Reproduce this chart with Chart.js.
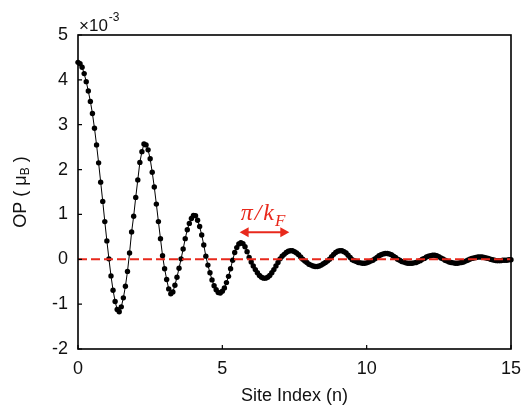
<!DOCTYPE html>
<html>
<head>
<meta charset="utf-8">
<script src="https://cdn.jsdelivr.net/npm/chart.js@4.4.0/dist/chart.umd.min.js"></script>
<style>
  html, body { margin: 0; padding: 0; background: #fff; }
</style>
</head>
<body>
<canvas id="myChart" width="524" height="409"></canvas>
<script>
'use strict';

// Global Variables
// order parameter, in units of 1e-3 (the axis shows x10^-3), one point every 1/14 site
var opValues = [
  4.39, 4.36, 4.28, 4.14, 3.96, 3.75, 3.52, 3.25, 2.92, 2.55,
  2.15, 1.72, 1.29, 0.84, 0.41, 0.01, -0.37, -0.69, -0.94, -1.12,
  -1.17, -1.06, -0.86, -0.60, -0.27, 0.14, 0.61, 0.96, 1.38, 1.77,
  2.16, 2.40, 2.57, 2.55, 2.44, 2.24, 1.94, 1.61, 1.23, 0.84,
  0.46, 0.08, -0.21, -0.45, -0.66, -0.77, -0.73, -0.58, -0.40, -0.20,
  0.01, 0.23, 0.46, 0.66, 0.80, 0.91, 0.98, 0.97, 0.87,
  0.73, 0.54, 0.32, 0.07, -0.13, -0.30, -0.46, -0.59, -0.68, -0.74,
  -0.75, -0.71, -0.64, -0.52, -0.38, -0.21, -0.02,
  0.15, 0.26, 0.34, 0.37, 0.35, 0.28, 0.17, 0.04,
  -0.06, -0.15, -0.23, -0.30, -0.36, -0.40, -0.42, -0.42, -0.40, -0.36, -0.30, -0.23, -0.15, -0.07,
  0.01, 0.07, 0.11, 0.15, 0.18, 0.19, 0.19, 0.17, 0.14, 0.10, 0.05, 0.00,
  -0.04, -0.07, -0.11, -0.13, -0.15, -0.16, -0.16, -0.15, -0.13, -0.10, -0.07, -0.04,
  0.00, 0.06, 0.11, 0.15, 0.18, 0.19, 0.19, 0.17, 0.14, 0.09, 0.04,
  -0.01, -0.03, -0.05, -0.07, -0.08, -0.09, -0.09, -0.08, -0.06, -0.04, -0.02,
  0.01, 0.04, 0.08, 0.10, 0.12, 0.13, 0.13, 0.12, 0.10, 0.07, 0.04, 0.00,
  -0.02, -0.05, -0.06, -0.08, -0.09, -0.09, -0.09, -0.08, -0.07, -0.05, -0.03, 0.00,
  0.02, 0.05, 0.07, 0.08, 0.09, 0.09, 0.08, 0.06, 0.03, 0.01,
  -0.02, -0.04, -0.06, -0.07, -0.08, -0.09, -0.09, -0.08, -0.07, -0.06, -0.04, -0.02,
  0.00, 0.02, 0.03, 0.04, 0.05, 0.05, 0.05, 0.04, 0.03, 0.02, 0.00,
  -0.01, -0.02, -0.03, -0.03, -0.03, -0.02, -0.02, -0.02, -0.01, -0.01
];
var siteStep = 1 / 14;
var zeroLineX = [0, 15];
var zeroLineY = [0, 0];
var xTicks = [0, 5, 10, 15];
var yTicks = [-2, -1, 0, 1, 2, 3, 4, 5];
// the pi/kF period marked above the 4th bump
var periodX = [5.6, 7.32];
var periodY = 0.6;

var fontName = '"Liberation Sans", Arial, sans-serif';
var red = '#e8291c';

function makePoints(xs, ys) {
  var pts = [];
  for (var i = 0; i < ys.length; i++) {
    pts.push({ x: xs[i], y: ys[i] });
  }
  return pts;
}

var siteIndex = [];
for (var i = 0; i < opValues.length; i++) {
  siteIndex.push(i * siteStep);
}

function arrowHead(ctx, x, y, dir) {
  ctx.beginPath();
  ctx.moveTo(x, y);
  ctx.lineTo(x - dir * 9, y - 5);
  ctx.lineTo(x - dir * 9, y + 5);
  ctx.closePath();
  ctx.fill();
}

// frame, inward ticks, exponent, y title and the pi/kF mark
var extrasPlugin = {
  id: 'extras',
  afterDraw: function (chart) {
    var ctx = chart.ctx;
    var area = chart.chartArea;
    var xs = chart.scales.x;
    var ys = chart.scales.y;
    ctx.save();

    ctx.strokeStyle = '#000';
    ctx.lineWidth = 1.6;
    ctx.strokeRect(area.left, area.top, area.right - area.left, area.bottom - area.top);

    ctx.lineWidth = 1.2;
    ctx.beginPath();
    yTicks.forEach(function (v) {
      var py = ys.getPixelForValue(v);
      ctx.moveTo(area.left, py);
      ctx.lineTo(area.left + 4, py);
    });
    xTicks.forEach(function (v) {
      var px = xs.getPixelForValue(v);
      ctx.moveTo(px, area.bottom);
      ctx.lineTo(px, area.bottom - 4);
    });
    ctx.stroke();

    // x10^-3
    ctx.fillStyle = '#111';
    ctx.textAlign = 'left';
    ctx.textBaseline = 'alphabetic';
    ctx.font = '17px ' + fontName;
    ctx.fillText('\u00d710', area.left + 1, area.top - 4);
    var w = ctx.measureText('\u00d710').width;
    ctx.font = '12px ' + fontName;
    ctx.fillText('-3', area.left + 2 + w, area.top - 14);

    // y axis title with subscript B
    ctx.save();
    ctx.translate(21, (area.top + area.bottom) / 2);
    ctx.rotate(-Math.PI / 2);
    ctx.textBaseline = 'middle';
    ctx.font = '18px ' + fontName;
    var p1 = 'OP ( \u03bc';
    var p3 = ' )';
    var w1 = ctx.measureText(p1).width;
    var w3 = ctx.measureText(p3).width;
    ctx.font = '12px ' + fontName;
    var w2 = ctx.measureText('B').width;
    var start = -(w1 + w2 + w3) / 2;
    ctx.font = '18px ' + fontName;
    ctx.fillText(p1, start, 0);
    ctx.fillText(p3, start + w1 + w2, 0);
    ctx.font = '12px ' + fontName;
    ctx.fillText('B', start + w1, 5);
    ctx.restore();

    // pi/kF arrow
    var ax1 = xs.getPixelForValue(periodX[0]);
    var ax2 = xs.getPixelForValue(periodX[1]);
    var ay = ys.getPixelForValue(periodY);
    ctx.strokeStyle = red;
    ctx.fillStyle = red;
    ctx.lineWidth = 2;
    ctx.beginPath();
    ctx.moveTo(ax1 + 6, ay);
    ctx.lineTo(ax2 - 6, ay);
    ctx.stroke();
    arrowHead(ctx, ax1, ay, -1);
    arrowHead(ctx, ax2, ay, 1);

    ctx.font = 'italic 24px "Liberation Serif", "DejaVu Serif", serif';
    ctx.textBaseline = 'alphabetic';
    ctx.letterSpacing = '2px';
    ctx.fillText('\u03c0/k', ax1 + 1, ay - 12);
    var wk = ctx.measureText('\u03c0/k').width;
    ctx.font = 'italic 17px "Liberation Serif", "DejaVu Serif", serif';
    ctx.fillText('F', ax1 + wk, ay - 6);
    ctx.letterSpacing = '0px';

    ctx.restore();
  }
};

var ctx = document.getElementById('myChart').getContext('2d');
var chart = new Chart(ctx, {
  type: 'line',
  data: {
    datasets: [{
      // dashed zero line, drawn on top
      data: makePoints(zeroLineX, zeroLineY),
      borderColor: red,
      borderWidth: 2,
      borderDash: [9, 4],
      pointRadius: 0,
      order: 0
    }, {
      data: makePoints(siteIndex, opValues),
      borderColor: '#000',
      borderWidth: 1,
      pointRadius: 2.7,
      pointBackgroundColor: '#000',
      pointBorderWidth: 0,
      tension: 0,
      clip: false,
      order: 1
    }]
  },
  options: {
    responsive: false,
    animation: false,
    layout: { padding: { left: 0, right: 13, top: 35, bottom: 0 } },
    plugins: {
      legend: { display: false },
      tooltip: { enabled: false }
    },
    scales: {
      x: {
        type: 'linear',
        min: 0,
        max: 15,
        afterBuildTicks: function (scale) {
          scale.ticks = xTicks.map(function (v) { return { value: v }; });
        },
        afterFit: function (scale) {
          scale.height = 60;
          scale.paddingLeft = 0;
          scale.paddingRight = 0;
        },
        grid: { display: false, drawTicks: false },
        border: { display: false },
        ticks: { color: '#111', padding: 9, maxRotation: 0, font: { family: fontName, size: 18 } },
        title: {
          display: true,
          text: 'Site Index (n)',
          color: '#111',
          font: { family: fontName, size: 18 },
          padding: { top: 0, bottom: 2 }
        }
      },
      y: {
        min: -2,
        max: 5,
        afterBuildTicks: function (scale) {
          scale.ticks = yTicks.map(function (v) { return { value: v }; });
        },
        afterFit: function (scale) {
          scale.width = 78;
          scale.paddingTop = 0;
          scale.paddingBottom = 0;
        },
        grid: { display: false, drawTicks: false },
        border: { display: false },
        ticks: { color: '#111', padding: 10, font: { family: fontName, size: 18 } }
      }
    }
  },
  plugins: [extrasPlugin]
});
</script>
</body>
</html>
